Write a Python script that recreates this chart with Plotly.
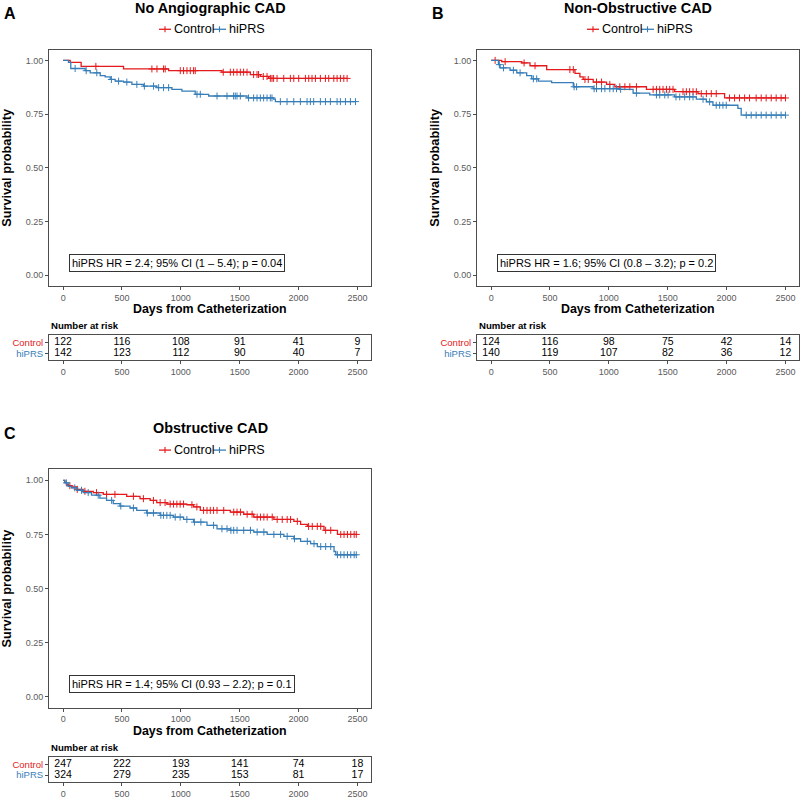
import numpy as np
import plotly.graph_objects as go

W, H = 800, 799
RED = "#E41A1C"
BLUE = "#377EB8"
FONT = "Liberation Sans"

# ---------------- data ----------------
titles = ["No Angiographic CAD", "Non-Obstructive CAD", "Obstructive CAD"]
letters = ["A", "B", "C"]
groups = ["Control", "hiPRS"]
hr_text = [
    "hiPRS HR = 2.4; 95% CI (1 – 5.4); p = 0.04",
    "hiPRS HR = 1.6; 95% CI (0.8 – 3.2); p = 0.2",
    "hiPRS HR = 1.4; 95% CI (0.93 – 2.2); p = 0.1",
]
risk_times = [0, 500, 1000, 1500, 2000, 2500]
risk_ctrl = [[122, 116, 108, 91, 41, 9],
             [124, 116, 98, 75, 42, 14],
             [247, 222, 193, 141, 74, 18]]
risk_hi = [[142, 123, 112, 90, 40, 7],
           [140, 119, 107, 82, 36, 12],
           [324, 279, 235, 153, 81, 17]]

# Panel A
A_ctrl_t = [60, 153, 513, 896, 1349, 1590, 1675, 1746]
A_ctrl_s = [0.991, 0.972, 0.960, 0.952, 0.945, 0.934, 0.925, 0.916]
A_ctrl_c = [278, 754, 797, 853, 867, 995, 1023, 1052, 1080, 1108, 1122, 1360, 1420, 1448,
            1477, 1505, 1533, 1562, 1618, 1647, 1660, 1700, 1732, 1760, 1774, 1788, 1817,
            1874, 1930, 1959, 2001, 2058, 2086, 2114, 2143, 2185, 2228, 2256, 2299, 2327,
            2355, 2384, 2412]
A_hi_t = [45, 65, 187, 230, 315, 357, 400, 442, 513, 584, 683, 797, 924, 1009, 1122, 1236,
          1562, 1788, 1803]
A_hi_s = [0.991, 0.962, 0.952, 0.942, 0.929, 0.923, 0.911, 0.903, 0.899, 0.888, 0.880,
          0.873, 0.865, 0.857, 0.842, 0.834, 0.825, 0.819, 0.808]
A_hi_c = [102, 196, 286, 410, 471, 541, 626, 690, 768, 811, 853, 896, 1137, 1165, 1307,
          1392, 1448, 1462, 1477, 1505, 1575, 1618, 1647, 1675, 1703, 1732, 1760, 1774,
          1845, 1902, 1959, 2015, 2072, 2100, 2128, 2185, 2228, 2270, 2327, 2355, 2398,
          2440, 2483]

# Panel B
B_ctrl_t = [90, 260, 330, 472, 712, 754, 782, 867, 980, 1051, 1319, 1559, 1757, 1983]
B_ctrl_s = [0.994, 0.988, 0.975, 0.957, 0.939, 0.923, 0.911, 0.899, 0.888, 0.877, 0.865,
            0.854, 0.845, 0.825]
B_ctrl_c = [34, 119, 280, 373, 669, 698, 797, 825, 895, 938, 1008, 1093, 1136, 1178, 1234,
            1376, 1404, 1432, 1460, 1489, 1517, 1545, 1630, 1658, 1686, 1715, 1743, 1785,
            1828, 1870, 1912, 2025, 2068, 2110, 2153, 2195, 2251, 2294, 2336, 2379, 2421,
            2463, 2500]
B_hi_t = [62, 76, 161, 218, 302, 345, 401, 514, 698, 867, 1093, 1206, 1347, 1559, 1743,
          1828, 1884, 2096, 2124]
B_hi_s = [0.980, 0.965, 0.954, 0.942, 0.929, 0.914, 0.903, 0.896, 0.877, 0.868, 0.865,
          0.847, 0.839, 0.830, 0.819, 0.807, 0.791, 0.776, 0.745]
B_hi_c = [70, 105, 189, 246, 359, 387, 705, 726, 875, 895, 938, 966, 1008, 1037, 1065,
          1100, 1234, 1404, 1432, 1475, 1503, 1570, 1602, 1644, 1686, 1715, 1800, 1856,
          1912, 1941, 1969, 1997, 2167, 2209, 2251, 2294, 2336, 2379, 2421, 2463, 2500]

# Panel C
C_ctrl_t = [14, 28, 43, 71, 114, 170, 256, 341, 540, 653, 739, 795, 881, 1051, 1108, 1165,
            1420, 1534, 1619, 1790, 1960, 2017, 2074, 2216, 2330]
C_ctrl_s = [0.990, 0.980, 0.975, 0.969, 0.958, 0.949, 0.943, 0.935, 0.926, 0.915, 0.907,
            0.897, 0.890, 0.887, 0.877, 0.861, 0.853, 0.843, 0.830, 0.819, 0.810, 0.796,
            0.787, 0.769, 0.750]
C_ctrl_c = [57, 120, 185, 284, 369, 440, 597, 682, 767, 824, 866, 909, 938, 966, 994, 1023,
            1094, 1136, 1193, 1222, 1250, 1278, 1307, 1364, 1449, 1477, 1506, 1563, 1605,
            1648, 1676, 1705, 1733, 1776, 1818, 1861, 1903, 1932, 1989, 2085, 2116, 2159,
            2188, 2230, 2273, 2358, 2386, 2415, 2443, 2472, 2490]
C_hi_t = [14, 43, 71, 114, 170, 241, 312, 369, 426, 483, 568, 625, 710, 824, 938, 1023,
          1108, 1222, 1307, 1420, 1619, 1733, 1875, 1960, 2017, 2102, 2159, 2301, 2316]
C_hi_s = [0.988, 0.972, 0.965, 0.954, 0.943, 0.931, 0.918, 0.907, 0.892, 0.881, 0.872,
          0.861, 0.849, 0.838, 0.830, 0.819, 0.807, 0.792, 0.776, 0.769, 0.761, 0.750,
          0.741, 0.730, 0.718, 0.707, 0.694, 0.671, 0.656]
C_hi_c = [28, 99, 156, 213, 298, 412, 490, 597, 715, 767, 830, 852, 881, 909, 952, 994,
          1051, 1115, 1170, 1278, 1349, 1392, 1425, 1449, 1477, 1534, 1591, 1648, 1705,
          1790, 1847, 1903, 1965, 2074, 2131, 2188, 2230, 2273, 2330, 2358, 2386, 2415,
          2443, 2472, 2490]

panels = [
    ((A_ctrl_t, A_ctrl_s, A_ctrl_c), (A_hi_t, A_hi_s, A_hi_c)),
    ((B_ctrl_t, B_ctrl_s, B_ctrl_c), (B_hi_t, B_hi_s, B_hi_c)),
    ((C_ctrl_t, C_ctrl_s, C_ctrl_c), (C_hi_t, C_hi_s, C_hi_c)),
]
colors = [RED, BLUE]

# ---------------- layout geometry (pixels) ----------------
# (left, right, km_top, km_bottom, tab_top, tab_bottom, title_y, legend_y)
geo = [
    (49, 371, 50, 288, 338, 363, 8, 29.5),
    (477, 799, 50, 288, 338, 363, 8, 29.5),
    (49, 371, 473, 713, 763, 788, 431, 453.5),
]
XR = [-120, 2615]


def px(x):
    return x / W


def py(y):
    return 1 - y / H


fig = go.Figure()
annotations = []
shapes = []
layout = dict(
    width=W, height=H, margin=dict(l=0, r=0, t=0, b=0),
    paper_bgcolor="white", plot_bgcolor="white", showlegend=False,
    font=dict(family=FONT, color="#000000"),
)

for i, (panel, g) in enumerate(zip(panels, geo)):
    L, R, kt, kb, tt, tb, ty, ly = g
    kx, ky = f"x{2*i+1}", f"y{2*i+1}"
    tx, tyax = f"x{2*i+2}", f"y{2*i+2}"
    kxa, kya = f"xaxis{2*i+1}", f"yaxis{2*i+1}"
    txa, tya = f"xaxis{2*i+2}", f"yaxis{2*i+2}"

    for (t, s, c), col in zip(panel, colors):
        end = max(c[-1], t[-1])
        xs = [0] + list(t) + [end]
        ys = [1.0] + list(s) + [s[-1]]
        fig.add_trace(go.Scatter(x=xs, y=ys, mode="lines", line=dict(color=col, width=1.3, shape="hv"),
                                 xaxis=kx, yaxis=ky, hoverinfo="skip"))
        tt_arr = np.array(t)
        s_arr = np.array([1.0] + list(s))
        idx = np.searchsorted(tt_arr, np.array(c), side="right")
        cy = s_arr[idx]
        fig.add_trace(go.Scatter(x=c, y=cy, mode="markers",
                                 marker=dict(symbol="cross-thin", size=5, line=dict(color=col, width=1)),
                                 xaxis=kx, yaxis=ky, hoverinfo="skip"))

    # risk table numbers
    fig.add_trace(go.Scatter(x=risk_times, y=[1] * len(risk_times), mode="text",
                             text=[str(v) for v in risk_ctrl[i]],
                             textfont=dict(family=FONT, size=10.5, color="black"),
                             xaxis=tx, yaxis=tyax, hoverinfo="skip"))
    fig.add_trace(go.Scatter(x=risk_times, y=[0] * len(risk_times), mode="text",
                             text=[str(v) for v in risk_hi[i]],
                             textfont=dict(family=FONT, size=10.5, color="black"),
                             xaxis=tx, yaxis=tyax, hoverinfo="skip"))

    common_x = dict(range=XR, tickvals=risk_times, ticks="outside", ticklen=3, tickwidth=1,
                    tickcolor="#4D4D4D", showgrid=False, zeroline=False, showline=True,
                    linecolor="#4D4D4D", linewidth=1, mirror=True,
                    tickfont=dict(family=FONT, size=9, color="#5A5A5A"),
                    domain=[px(L), px(R)])
    layout[kxa] = dict(common_x, anchor=ky)
    layout[txa] = dict(common_x, anchor=tyax)
    layout[kya] = dict(range=[-0.05, 1.05], tickvals=[0, 0.25, 0.5, 0.75, 1.0],
                       ticktext=["0.00", "0.25", "0.50", "0.75", "1.00"],
                       ticks="outside", ticklen=3, tickwidth=1, tickcolor="#4D4D4D",
                       showgrid=False, zeroline=False, showline=True, linecolor="#4D4D4D",
                       linewidth=1, mirror=True, anchor=kx,
                       tickfont=dict(family=FONT, size=9, color="#5A5A5A"),
                       domain=[py(kb), py(kt)])
    layout[tya] = dict(range=[-0.64, 1.64], tickvals=[1, 0],
                       ticktext=[f"<span style='color:{RED}'>Control</span>",
                                 f"<span style='color:{BLUE}'>hiPRS</span>"],
                       ticks="outside", ticklen=3, tickwidth=1, tickcolor="#4D4D4D",
                       showgrid=False, zeroline=False, showline=True, linecolor="#4D4D4D",
                       linewidth=1, mirror=True, anchor=tx,
                       tickfont=dict(family=FONT, size=9.5),
                       domain=[py(tb), py(tt)])

    cx = (L + R) / 2
    # panel letter
    annotations.append(dict(text=f"<b>{letters[i]}</b>", x=px(L - 39), y=py(ty + 6), xref="paper",
                            yref="paper", xanchor="center", yanchor="middle", showarrow=False,
                            font=dict(family=FONT, size=16, color="black")))
    # title
    annotations.append(dict(text=f"<b>{titles[i]}</b>", x=px(cx), y=py(ty), xref="paper",
                            yref="paper", xanchor="center", yanchor="middle", showarrow=False,
                            font=dict(family=FONT, size=14.4, color="black")))
    # legend
    for (x0, x1, name, col) in [(cx - 51, cx - 39, "Control", RED), (cx + 3, cx + 16, "hiPRS", BLUE)]:
        shapes.append(dict(type="line", xref="paper", yref="paper", x0=px(x0), x1=px(x1),
                           y0=py(ly), y1=py(ly), line=dict(color=col, width=1.3)))
        xm = (x0 + x1) / 2
        shapes.append(dict(type="line", xref="paper", yref="paper", x0=px(xm), x1=px(xm),
                           y0=py(ly - 3), y1=py(ly + 3), line=dict(color=col, width=1.1)))
        annotations.append(dict(text=name, x=px(x1 + 0.5), y=py(ly), xref="paper", yref="paper",
                                xanchor="left", yanchor="middle", showarrow=False,
                                font=dict(family=FONT, size=12.6, color="black")))
    # axis titles
    annotations.append(dict(text="<b>Survival probability</b>", x=px(L - 42), y=py((kt + kb) / 2),
                            xref="paper", yref="paper", xanchor="center", yanchor="middle",
                            textangle=-90, showarrow=False,
                            font=dict(family=FONT, size=12.7, color="black")))
    annotations.append(dict(text="<b>Days from Catheterization</b>", x=px(cx), y=py(kb + 23.5),
                            xref="paper", yref="paper", xanchor="center", yanchor="middle",
                            showarrow=False, font=dict(family=FONT, size=12.4, color="black")))
    annotations.append(dict(text="<b>Number at risk</b>", x=px(L), y=py(tt - 10),
                            xref="paper", yref="paper", xanchor="left", yanchor="middle",
                            showarrow=False, font=dict(family=FONT, size=9.6, color="black")))
    # HR label inside KM plot
    annotations.append(dict(text=hr_text[i], x=50, y=0.058, xref=kx, yref=ky,
                            xanchor="left", yanchor="middle", showarrow=False,
                            bordercolor="#333333", borderwidth=1, borderpad=2, bgcolor="white",
                            font=dict(family=FONT, size=11, color="black")))

layout["annotations"] = annotations
layout["shapes"] = shapes
fig.update_layout(**layout)
fig.write_html(
    "out.html",
    config={"displayModeBar": False},
    post_script="document.body.style.margin='0';document.body.style.padding='0';"
                "document.body.style.overflow='hidden';",
)
